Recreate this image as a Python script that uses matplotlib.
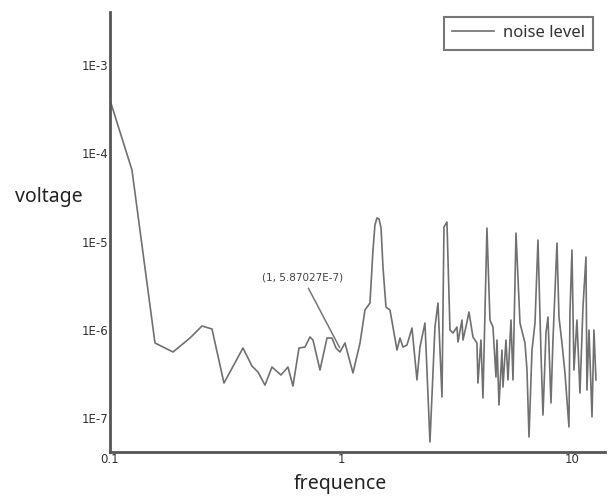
import numpy as np
import matplotlib
matplotlib.use('Agg')
import matplotlib.pyplot as plt

# values (frequency, voltage)
freq = [0.1, 0.1245, 0.1566, 0.1874, 0.222, 0.2502, 0.2764, 0.3115, 0.3765, 0.4118,
        0.4372, 0.4688, 0.5026, 0.5497, 0.5896, 0.6196, 0.6579, 0.6985, 0.7342, 0.7565,
        0.8112, 0.8699, 0.9141, 0.9515, 0.9901, 1.0406, 1.127, 1.209, 1.27, 1.335,
        1.376, 1.403, 1.432, 1.461, 1.491, 1.52, 1.566, 1.63, 1.748, 1.801,
        1.855, 1.931, 2.03, 2.133, 2.198, 2.31, 2.428, 2.552, 2.63, 2.737,
        2.792, 2.876, 2.964, 3.054, 3.178, 3.21, 3.341, 3.375, 3.512, 3.582,
        3.727, 3.878, 3.917, 4.036, 4.118, 4.285, 4.416, 4.55, 4.688, 4.735,
        4.831, 4.977, 5.027, 5.18, 5.285, 5.445, 5.555, 5.724, 5.956, 6.26,
        6.387, 6.516, 6.714, 6.918, 7.126, 7.343, 7.491, 7.718, 7.874, 8.112,
        8.275, 8.612, 8.785, 9.05, 9.326, 9.705, 9.802, 10.0, 10.2, 10.51,
        10.83, 11.16, 11.5, 11.61, 11.85, 12.21, 12.45, 12.7]
volt = [4.01e-4, 6.46e-5, 7.08e-7, 5.60e-7, 8.06e-7, 1.103e-6, 1.02e-6, 2.49e-7, 6.21e-7, 3.88e-7,
        3.32e-7, 2.36e-7, 3.78e-7, 3.07e-7, 3.78e-7, 2.30e-7, 6.21e-7, 6.37e-7, 8.28e-7, 7.65e-7,
        3.50e-7, 8.06e-7, 8.06e-7, 6.21e-7, 5.60e-7, 7.08e-7, 3.24e-7, 7.08e-7, 1.674e-6, 2.01e-6,
        8.01e-6, 1.54e-5, 1.85e-5, 1.80e-5, 1.422e-5, 5.14e-6, 1.81e-6, 1.674e-6, 5.89e-7, 8.06e-7,
        6.37e-7, 6.72e-7, 1.046e-6, 2.70e-7, 6.37e-7, 1.193e-6, 5.35e-8, 1.074e-6, 2.01e-6, 1.73e-7,
        1.46e-5, 1.663e-5, 9.94e-7, 9.19e-7, 1.074e-6, 7.26e-7, 1.29e-6, 7.65e-7, 1.224e-6, 1.589e-6,
        8.28e-7, 7.08e-7, 2.49e-7, 7.65e-7, 1.685e-7, 1.422e-5, 1.29e-6, 1.074e-6, 2.91e-7, 7.65e-7,
        1.404e-7, 5.89e-7, 2.245e-7, 7.65e-7, 2.70e-7, 1.29e-6, 2.70e-7, 1.248e-5, 1.193e-6, 7.08e-7,
        3.50e-7, 6.09e-8, 5.89e-7, 1.193e-6, 1.04e-5, 5.45e-7, 1.081e-7, 9.19e-7, 1.395e-6, 1.48e-7,
        7.65e-7, 9.62e-6, 1.395e-6, 7.08e-7, 3.24e-7, 7.91e-8, 1.548e-6, 8.01e-6, 3.50e-7, 1.29e-6,
        1.92e-7, 1.81e-6, 6.68e-6, 2.076e-7, 9.94e-7, 1.03e-7, 9.94e-7, 2.70e-7]

ytick_vals = [1e-7, 1e-6, 1e-5, 1e-4, 1e-3]
ytick_labels = ['1E-7', '1E-6', '1E-5', '1E-4', '1E-3']
xtick_vals = [0.1, 1, 10]
xtick_labels = ['0.1', '1', '10']

fig = plt.figure(figsize=(6.1, 4.98), dpi=100)
ax = fig.add_axes([0.1803, 0.0924, 0.8115, 0.8835])

ax.plot(freq, volt, color='#707070', lw=1.2, label='noise level')
ax.set_xscale('log')
ax.set_yscale('log')
ax.set_xlim(0.1, 13.9)
ax.set_ylim(4.12e-8, 3.99e-3)

ax.set_yticks(ytick_vals)
ax.set_yticklabels(ytick_labels)
ax.set_xticks(xtick_vals)
ax.set_xticklabels(xtick_labels)
ax.minorticks_off()
ax.tick_params(axis='both', length=0, labelsize=8.5, labelcolor='#333333', pad=1)

# only left and bottom axis lines
for s in ['top', 'right']:
    ax.spines[s].set_visible(False)
for s in ['left', 'bottom']:
    ax.spines[s].set_color('#555555')
    ax.spines[s].set_linewidth(2)

# annotation of the point at x = 1
ax.annotate('(1, 5.87027E-7)', xy=(1, 5.87027e-7), xytext=(0.685, 3.86e-6),
            ha='center', va='center', fontsize=7.5, color='#444444',
            arrowprops=dict(arrowstyle='-', color='#777777', lw=1.1))

leg = ax.legend(loc='upper right', bbox_to_anchor=(0.976, 0.989), borderaxespad=0,
                fancybox=False, framealpha=1, edgecolor='#777777',
                handlelength=2.5, handletextpad=0.55, borderpad=0.5,
                prop={'family': 'Noto Sans', 'size': 12})
leg.get_frame().set_linewidth(1.5)
for t in leg.get_texts():
    t.set_color('#333333')

fig.text(15 / 610, 1 - 197 / 498, 'voltage', ha='left', va='center',
         fontsize=14, family='Noto Sans', color='#222222')
fig.text(340 / 610, 1 - 484 / 498, 'frequence', ha='center', va='center',
         fontsize=14, family='Noto Sans', color='#222222')

fig.savefig('out.png', dpi=100)
